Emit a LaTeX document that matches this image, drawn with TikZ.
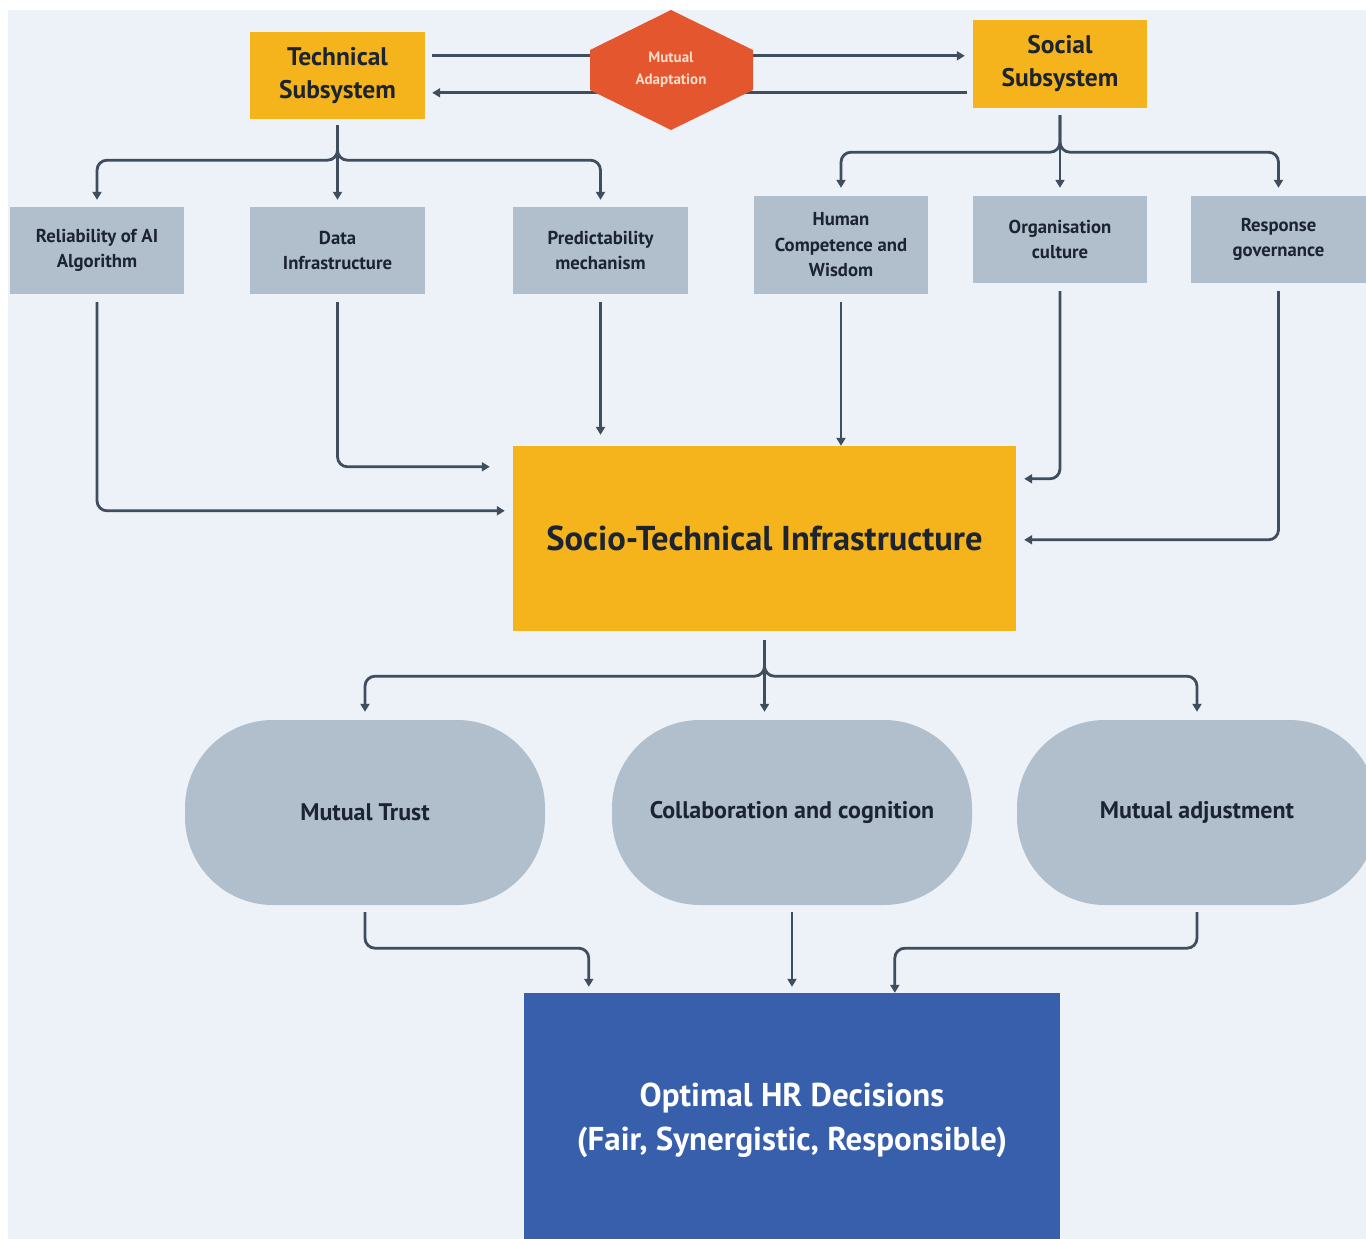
\documentclass[tikz,border=0pt]{standalone}
\usepackage{fontspec}
\setmainfont{PT Sans}
\usetikzlibrary{arrows.meta,calc}
\definecolor{bg}{HTML}{EDF2F8}
\definecolor{ylw}{HTML}{F5B31C}
\definecolor{gry}{HTML}{B1BFCC}
\definecolor{org}{HTML}{E4572E}
\definecolor{blu}{HTML}{375FAB}
\definecolor{ln}{HTML}{3F4D5F}
\definecolor{txt}{HTML}{1B2430}
\definecolor{peach}{HTML}{FBDCCB}
\tikzset{
  yellowbox/.style={fill=ylw, inner sep=0pt, align=center, text=txt, font=\fontsize{25.5}{33}\selectfont\bfseries},
  graybox/.style={fill=gry, inner sep=0pt, align=center, text=txt, font=\fontsize{18.7}{25.5}\selectfont\bfseries},
  pill/.style={fill=gry, inner sep=0pt, rounded corners=88pt, text=txt, minimum width=360pt, minimum height=185pt, font=\fontsize{24}{28}\selectfont\bfseries},
  conn/.style={draw=ln, line width=2.8pt, rounded corners=10pt, -{Triangle[length=8pt,width=9pt]}}
}
\begin{document}
\begin{tikzpicture}[x=1pt,y=-1pt]
\useasboundingbox (0,0) rectangle (1366,1239);
\fill[white] (0,0) rectangle (1366,1239);
\fill[bg] (8,10) rectangle (1366,1239);

% top boxes
\node[yellowbox, minimum width=175pt, minimum height=87pt] (tech) at (337.5,75.5) {Technical\\Subsystem};
\node[yellowbox, minimum width=174pt, minimum height=88pt] (social) at (1060,64) {Social\\Subsystem};

% mutual adaptation arrows
\coordinate (t1) at ($(tech.north east)+(7,24)$);
\coordinate (t2) at ($(tech.north east)+(7,61)$);
\draw[conn] (t1) -- ($(social.west |- t1)+(-8,0)$);
\draw[conn] ($(social.west |- t2)+(-6,0)$) -- (t2);

% hexagon
\coordinate (mac) at (671,70);
\fill[org] ($(mac)+(0,-60)$) -- ($(mac)+(82,-20)$) -- ($(mac)+(82,20)$) -- ($(mac)+(0,60)$) -- ($(mac)+(-81,20)$) -- ($(mac)+(-81,-20)$) -- cycle;
\node[align=center, text=peach, font=\fontsize{15}{22}\selectfont\bfseries, inner sep=0pt] (ma) at (mac) {Mutual\\Adaptation};

% second row
\node[graybox, minimum width=174pt, minimum height=87pt] (rel) at (97,250.5) {Reliability of AI\\Algorithm};
\node[graybox, minimum width=175pt, minimum height=87pt] (data) at (337.5,250.5) {Data\\Infrastructure};
\node[graybox, minimum width=175pt, minimum height=87pt] (pred) at (600.5,250.5) {Predictability\\mechanism};
\node[graybox, minimum width=174pt, minimum height=98pt] (hum) at (841,245) {Human\\Competence and\\Wisdom};
\node[graybox, minimum width=174pt, minimum height=87pt] (orgc) at (1060,239.5) {Organisation\\culture};
\node[graybox, minimum width=175pt, minimum height=87pt] (resp) at (1278.5,239.5) {Response\\governance};

% trees from subsystems
\draw[conn] ($(tech.south)+(0,6)$) -- ++(0,35) -| ($(rel.north)+(0,-7)$);
\draw[conn] ($(tech.south)+(0,6)$) -- ++(0,35) -| ($(pred.north)+(0,-7)$);
\draw[conn] ($(tech.south)+(0,6)$) -- ($(data.north)+(0,-7)$);
\draw[conn] ($(social.south)+(0,7)$) -- ++(0,37) -| ($(hum.north)+(0,-8)$);
\draw[conn] ($(social.south)+(0,7)$) -- ++(0,37) -| ($(resp.north)+(0,-8)$);
\draw[conn] ($(social.south)+(0,7)$) -- ($(orgc.north)+(0,-8)$);

% central box
\node[fill=ylw, inner sep=0pt, minimum width=503pt, minimum height=185pt, text=txt, font=\fontsize{34.5}{40}\selectfont\bfseries] (sti) at (764.5,538.5) {Socio-Technical Infrastructure};

\draw[conn] ($(rel.south)+(0,8)$) |- ($(sti.north west)+(-8,65)$);
\draw[conn] ($(data.south)+(0,8)$) |- ($(sti.north west)+(-23,21)$);
\draw[conn] ($(pred.south)+(0,8)$) -- ($(pred.south |- sti.north)+(0,-11)$);
\draw[conn] ($(hum.south)+(0,8)$) -- (hum.south |- sti.north);
\draw[conn] ($(orgc.south)+(0,8)$) |- ($(sti.north east)+(8,33)$);
\draw[conn] ($(resp.south)+(0,8)$) |- ($(sti.north east)+(8,94)$);

% pills
\node[pill] (trust) at (365,812.5) {Mutual Trust};
\node[pill] (collab) at (792,812.5) {Collaboration and cognition};
\node[pill] (adj) at (1197,812.5) {Mutual adjustment};

\draw[conn] ($(sti.south)+(0,9)$) -- ++(0,36) -| ($(trust.north)+(0,-8)$);
\draw[conn] ($(sti.south)+(0,9)$) -- ++(0,36) -| ($(adj.north)+(0,-8)$);
\draw[conn] ($(sti.south)+(0,9)$) -- ($(sti.south |- trust.north)+(0,-8)$);

% final box
\node[fill=blu, inner sep=0pt, minimum width=536pt, minimum height=254pt, text=white, align=center, font=\fontsize{33}{44}\selectfont\bfseries] (opt) at (792,1120) {Optimal HR Decisions\\(Fair, Synergistic, Responsible)};

\draw[conn] ($(trust.south)+(0,7)$) -- ++(0,36) -| ($(opt.north west)+(65,-6)$);
\draw[conn] ($(collab.south)+(0,7)$) -- ($(collab.south |- opt.north)+(0,-6)$);
\draw[conn] ($(adj.south)+(0,7)$) -- ++(0,36) -| ($(opt.north west)+(371,0)$);
\end{tikzpicture}
\end{document}
